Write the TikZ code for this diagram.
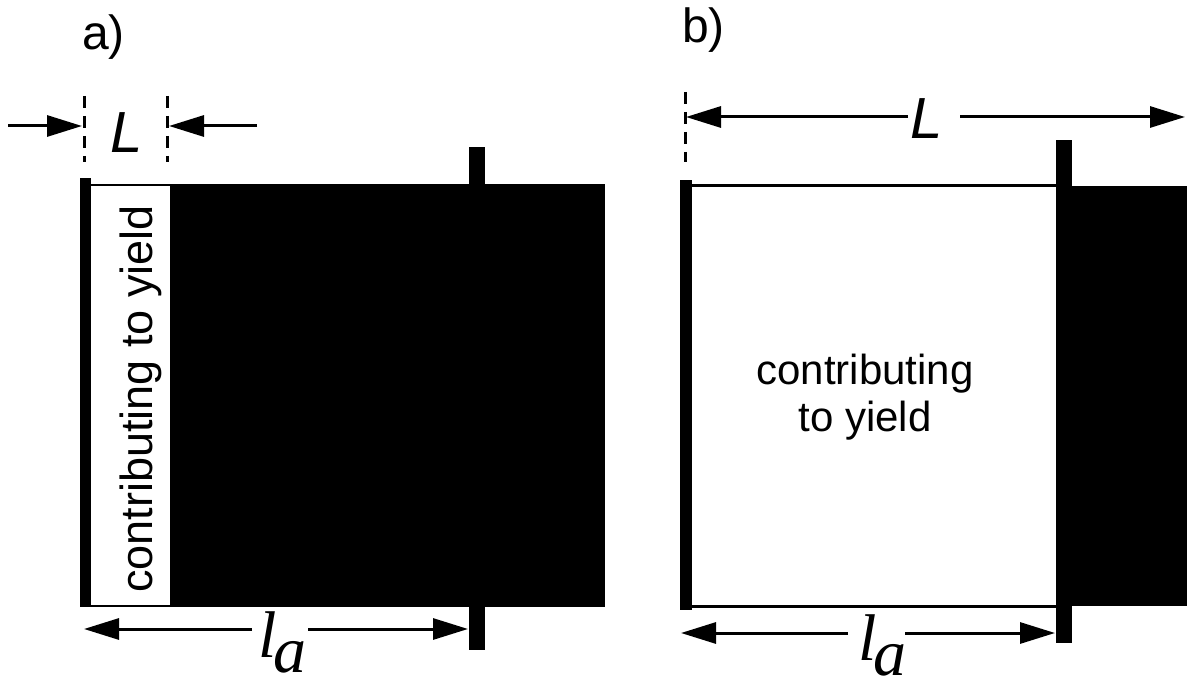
\documentclass[tikz,border=0pt]{standalone}
\usepackage{fontspec}
\setmainfont{Liberation Sans}
\newfontfamily\serifit{Liberation Serif}
\usetikzlibrary{arrows.meta}
\tikzset{
  dim/.style={line width=3pt,-{Triangle[length=35pt,width=21pt]}},
  guide/.style={line width=3pt,dash pattern=on 12pt off 8pt},
  bar/.style={fill=black,draw=none},
  bigL/.style={inner sep=0pt,anchor=base west,font=\fontsize{58}{60}\selectfont\itshape},
  la/.style={inner sep=0pt,anchor=base west,font=\fontsize{66}{68}\selectfont\serifit\itshape},
  panel/.style={inner sep=0pt,anchor=base west,font=\fontsize{48}{50}\selectfont},
}
\begin{document}
\begin{tikzpicture}[x=1pt,y=-1pt]
\useasboundingbox (0,0) rectangle (1187,684);
% ---------- panel a ----------
\node[panel] (pa) at (82,50) {a)};
\fill[black] (171,184) rectangle (605,607);
\draw[line width=2.5pt] (90,185) rectangle (171,606);
\fill[bar] (80,178) rectangle (91,607);
\fill[bar] (469,147) rectangle (485,650);
\node[inner sep=0pt,rotate=90,anchor=base,font=\fontsize{45}{47}\selectfont] (ta) at (152,399) {contributing to yield};
\coordinate (ga1) at (84,96); \coordinate (ga2) at (84,162);
\coordinate (gb1) at (167,96); \coordinate (gb2) at (167,162);
\draw[guide] (ga1) -- (ga2);
\draw[guide] (gb1) -- (gb2);
\coordinate (La0) at (8,126); \coordinate (La1) at (82,126);
\coordinate (Lb0) at (257,126); \coordinate (Lb1) at (169,126);
\draw[dim] (La0) -- (La1);
\draw[dim] (Lb0) -- (Lb1);
\node[bigL] (La) at (110,153) {L};
\node[la] (laa) at (258,657) {l\kern-3pt\raisebox{-15pt}{a}};
\coordinate (laL) at (252,629); \coordinate (laLt) at (84,629);
\coordinate (laR) at (308,629); \coordinate (laRt) at (468,629);
\draw[dim] (laL) -- (laLt);
\draw[dim] (laR) -- (laRt);
% ---------- panel b ----------
\node[panel] (pb) at (682,43) {b)};
\fill[black] (1056,186) rectangle (1187,606);
\draw[line width=3pt] (691,186) -- (1056,186);
\draw[line width=3pt] (691,606) -- (1056,606);
\fill[bar] (680,180) rectangle (692,610);
\fill[bar] (1056,140) rectangle (1072,643);
\node[inner sep=0pt,align=center,font=\fontsize{42}{47}\selectfont] (tb) at (865,397) {contributing\\to yield};
\coordinate (gc1) at (685,92); \coordinate (gc2) at (685,162);
\draw[guide] (gc1) -- (gc2);
\node[bigL] (Lbn) at (910,139) {L};
\coordinate (Lc0) at (908,117); \coordinate (Lc1) at (686,117);
\coordinate (Ld0) at (960,117); \coordinate (Ld1) at (1185,117);
\draw[dim] (Lc0) -- (Lc1);
\draw[dim] (Ld0) -- (Ld1);
\node[la] (lab) at (858,660) {l\kern-3pt\raisebox{-15pt}{a}};
\coordinate (lbL) at (848,633); \coordinate (lbLt) at (681,633);
\coordinate (lbR) at (905,633); \coordinate (lbRt) at (1055,633);
\draw[dim] (lbL) -- (lbLt);
\draw[dim] (lbR) -- (lbRt);
\end{tikzpicture}
\end{document}
